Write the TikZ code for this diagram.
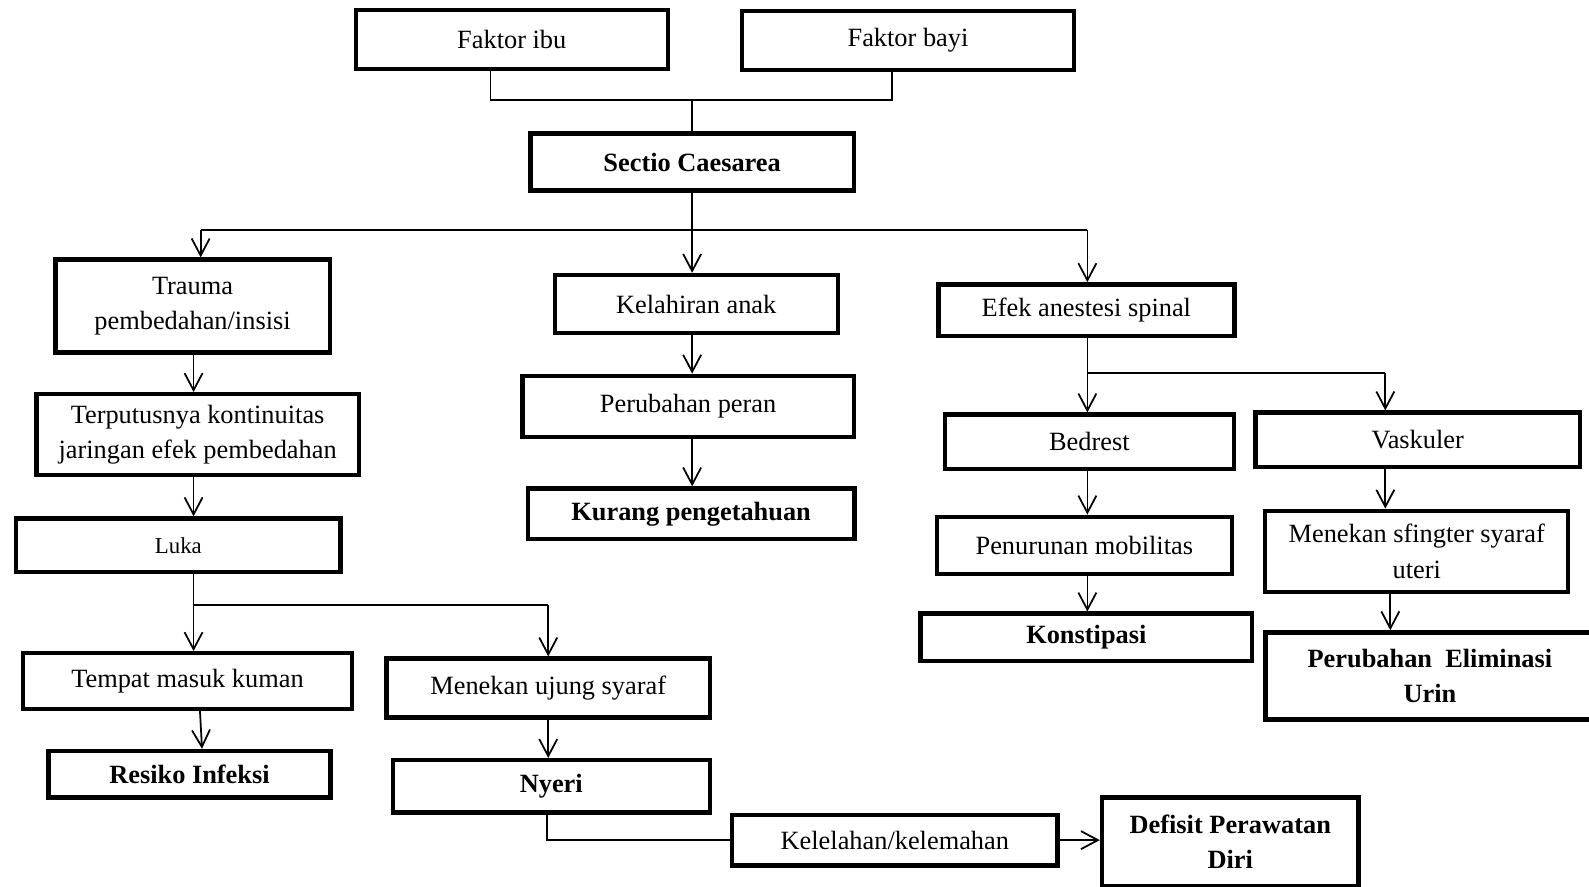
\documentclass[tikz,border=0pt]{standalone}
\usepackage{fontspec}
\setmainfont{Liberation Serif}
\usetikzlibrary{arrows.meta}

\begin{document}
\begin{tikzpicture}[x=0.2027mm, y=-0.2027mm, line width=1pt,
  box/.style={draw, line width=2.5pt, inner sep=2pt, align=center, font=\fontsize{15}{20}\selectfont},
  bold box/.style={box, font=\fontsize{15}{20}\selectfont\bfseries},
  arr/.style={-{Straight Barb[length=3.4mm,width=3.6mm]}}]%
\useasboundingbox (0,0) rectangle (1568,875);
\begin{scope}
\node[box, minimum width=62.4mm, minimum height=11.8mm] (ibu) at (505,39) {Faktor ibu};
\node[box, minimum width=66.3mm, minimum height=11.8mm] (bayi) at (896,40) {Faktor bayi};
\node[bold box, minimum width=64.7mm, minimum height=11.4mm] (sc) at (683,160) {Sectio Caesarea};
% kiri
\node[box, minimum width=54.9mm, minimum height=18.6mm] (trauma) at (190,302) {Trauma\\pembedahan/insisi};
\node[box, minimum width=64.5mm, minimum height=16.2mm] (putus) at (195,429) {Terputusnya kontinuitas\\jaringan efek pembedahan};
\node[box, minimum width=64.9mm, minimum height=10.7mm, font=\fontsize{13}{16}\selectfont] (luka) at (176,538) {Luka};
\node[box, minimum width=65.9mm, minimum height=11.1mm] (tempat) at (185,672) {Tempat masuk kuman};
\node[bold box, minimum width=56.4mm, minimum height=9.3mm] (resiko) at (187,764) {Resiko Infeksi};
\node[box, minimum width=64.7mm, minimum height=11.8mm] (ujung) at (541,679) {Menekan ujung syaraf};
\node[bold box, minimum width=63.4mm, minimum height=10.5mm] (nyeri) at (544,776) {Nyeri};
\node[box, minimum width=65.1mm, minimum height=10.1mm] (lelah) at (883,829) {Kelelahan/kelemahan};
\node[bold box, minimum width=51.3mm, minimum height=17.8mm] (defisit) at (1214,831) {Defisit Perawatan\\Diri};
% tengah
\node[box, minimum width=56.6mm, minimum height=11.6mm] (lahir) at (687,300) {Kelahiran anak};
\node[box, minimum width=66.3mm, minimum height=12.2mm] (peran) at (679,401) {Perubahan peran};
\node[bold box, minimum width=65.3mm, minimum height=10.1mm] (kurang) at (682,507) {Kurang pengetahuan};
% kanan
\node[box, minimum width=59.2mm, minimum height=10.3mm] (efek) at (1072,306) {Efek anestesi spinal};
\node[box, minimum width=57.8mm, minimum height=10.9mm] (bedrest) at (1075,436) {Bedrest};
\node[box, minimum width=64.9mm, minimum height=10.9mm] (vaskuler) at (1399,434) {Vaskuler};
\node[box, minimum width=59.0mm, minimum height=11.4mm] (turun) at (1070,538) {Penurunan mobilitas};
\node[bold box, minimum width=66.3mm, minimum height=9.5mm] (konst) at (1072,629) {Konstipasi};
\node[box, minimum width=60.6mm, minimum height=16.2mm] (sfingter) at (1398,544) {Menekan sfingter syaraf\\uteri};
\node[bold box, minimum width=65.7mm, minimum height=17.4mm] (urin) at (1411,667) {Perubahan\ \ Eliminasi\\Urin};
\end{scope}
% titik cabang
\coordinate (a1) at (484,99);
\coordinate (a2) at (880,99);
\coordinate (b1) at (198,227);
\coordinate (b2) at (1073,227);
\coordinate (c1) at (1073,368);
\coordinate (c2) at (1367,368);
\coordinate (d1) at (191,597);
\coordinate (d2) at (541,597);
\coordinate (e1) at (540,832);
\draw (ibu.south -| a1) -- (a1) -- (a2) -- (bayi.south -| a2);
\draw (sc.north) -- (sc.north |- a1);
\draw (sc.south) -- (sc.south |- b1);
\draw (b1) -- (b2);
\draw (efek.south -| c1) -- (c1) -- (c2);
\draw (luka.south -| d1) -- (d1) -- (d2);
\draw (nyeri.south -| e1) |- (lelah.west);
\begin{scope}[every edge/.style={draw, arr}]
\draw (b1) edge (b1 |- trauma.north);
\draw (sc.south) edge (sc.south |- lahir.north);
\draw (b2) edge (b2 |- efek.north);
\draw (trauma.south -| d1) edge (putus.north -| d1);
\draw (putus.south -| d1) edge (luka.north -| d1);
\draw (d1) edge (d1 |- tempat.north);
\draw (d2) edge (d2 |- ujung.north);
\draw ([xshift=2.5mm]tempat.south) edge ([xshift=2.5mm]resiko.north);
\draw (ujung.south) edge (ujung.south |- nyeri.north);
\draw (lelah.east) edge (lelah.east -| defisit.west);
\draw (lahir.south -| sc.south) edge (peran.north -| sc.south);
\draw (peran.south -| sc.south) edge (kurang.north -| sc.south);
\draw (c1) edge (c1 |- bedrest.north);
\draw (c2) edge (c2 |- vaskuler.north);
\draw (bedrest.south -| c1) edge (turun.north -| c1);
\draw (turun.south -| c1) edge (konst.north -| c1);
\draw (vaskuler.south -| c2) edge (sfingter.north -| c2);
\draw ([xshift=1mm]sfingter.south -| c2) edge ([xshift=1mm]urin.north -| c2);
\end{scope}
\end{tikzpicture}
\end{document}
